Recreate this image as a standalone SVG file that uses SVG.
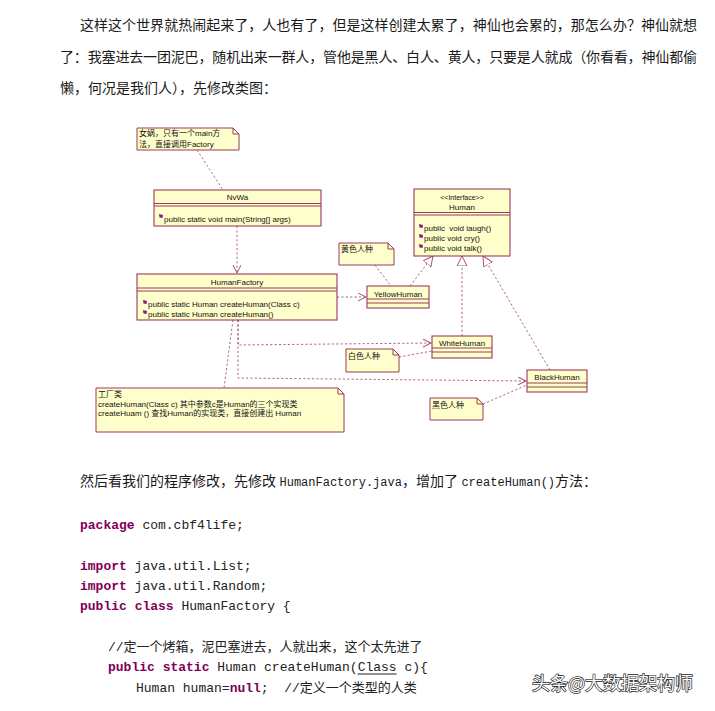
<svg xmlns="http://www.w3.org/2000/svg" xmlns:xlink="http://www.w3.org/1999/xlink" width="715" height="711" viewBox="0 0 715 711">
<defs>
<style>
.para{font-family:"Liberation Serif","Noto Sans CJK SC",serif;font-size:14px;fill:#1a1a1a}
.code{font-family:"Liberation Mono","Noto Sans CJK SC",monospace;font-size:13px;fill:#222;white-space:pre}
.kw{font-weight:bold;fill:#7f0055}
.cjk{font-family:"Noto Sans CJK SC",sans-serif;font-size:13px}
.box{fill:#ffffcc;stroke:#9b3a5a;stroke-width:1.1}
.sep{stroke:#9b3a5a;stroke-width:1;fill:none}
.note{fill:#ffffcc;stroke:#9b3a5a;stroke-width:1}
.u{font-family:"Liberation Sans","Noto Sans CJK SC",sans-serif;font-size:8px;fill:#111;white-space:pre}
.c{text-anchor:middle}
.dash{fill:none;stroke:#a8507a;stroke-width:0.9;stroke-dasharray:2.2,2.2}
.wm{font-family:"Noto Sans CJK SC",sans-serif;font-size:18px;fill:#fff;stroke:#222;stroke-width:1.3;paint-order:stroke}
</style>
<marker id="open" markerWidth="10" markerHeight="10" refX="8" refY="4" orient="auto" markerUnits="userSpaceOnUse">
<path d="M0,0 L8,4 L0,8" fill="none" stroke="#a8507a" stroke-width="1"/>
</marker>
<marker id="tri" markerWidth="12" markerHeight="12" refX="10" refY="5" orient="auto" markerUnits="userSpaceOnUse">
<path d="M0,0 L10,5 L0,10 Z" fill="#fff" stroke="#a8507a" stroke-width="1"/>
</marker>
<path id="bul" d="M-2,-2 L2,-1 L1.5,2 L-1.5,1.5 Z" fill="#8a1a8a"/>
</defs>
<rect width="715" height="711" fill="#fff"/>

<g id="intro">
<text class="para" x="80" y="30" textLength="617" lengthAdjust="spacing">这样这个世界就热闹起来了，人也有了，但是这样创建太累了，神仙也会累的，那怎么办？神仙就想</text>
<text class="para" x="60" y="62" textLength="637" lengthAdjust="spacing">了：我塞进去一团泥巴，随机出来一群人，管他是黑人、白人、黄人，只要是人就成（你看看，神仙都偷</text>
<text class="para" x="60" y="93">懒，何况是我们人），先修改类图：</text>
</g>

<g id="connectors">
<path class="dash" d="M197,150 L223,190"/>
<path class="dash" d="M237,226 V273" marker-end="url(#open)"/>
<path class="dash" d="M375,265 L391,286"/>
<path class="dash" d="M410,286 L433,256" marker-end="url(#tri)"/>
<path class="dash" d="M462,336 V256" marker-end="url(#tri)"/>
<path class="dash" d="M550,370 L483,256" marker-end="url(#tri)"/>
<path class="dash" d="M337,297 H366" marker-end="url(#open)"/>
<path class="dash" d="M238,320 V345 L431,343" marker-end="url(#open)"/>
<path class="dash" d="M238,320 V378 L526,381" marker-end="url(#open)"/>
<path class="dash" d="M399,357 L432,351"/>
<path class="dash" d="M483,404 L527,385"/>
<path class="dash" d="M233,320 L224,388"/>
</g>

<g id="note-nvwa">
<path class="note" d="M137,128 H233 L239,134 V150 H137 Z"/>
<path class="sep" d="M233,128 V134 H239"/>
<text class="u" x="139" y="136">女娲，只有一个main方</text>
<text class="u" x="139" y="147">法，直接调用Factory</text>
</g>

<g id="NvWa">
<rect class="box" x="154" y="190" width="167" height="36"/>
<path class="sep" d="M154,203.5 H321 M154,206 H321"/>
<text class="u c" x="237.5" y="200">NvWa</text>
<use xlink:href="#bul" x="161" y="216"/>
<text class="u" x="164" y="222">public static void main(String[] args)</text>
</g>

<g id="HumanFactory">
<rect class="box" x="137" y="274" width="200" height="46"/>
<path class="sep" d="M137,288 H337 M137,291 H337"/>
<text class="u c" x="237" y="285">HumanFactory</text>
<use xlink:href="#bul" x="145" y="302"/>
<text class="u" x="148" y="307">public static Human createHuman(Class c)</text>
<use xlink:href="#bul" x="145" y="312"/>
<text class="u" x="148" y="317">public static Human createHuman()</text>
</g>

<g id="Human">
<rect class="box" x="414" y="189" width="96" height="67"/>
<path class="sep" d="M414,212.5 H510 M414,215 H510"/>
<text class="u c" x="462" y="200" style="font-size:7px">&lt;&lt;Interface&gt;&gt;</text>
<text class="u c" x="462" y="210">Human</text>
<use xlink:href="#bul" x="421" y="226"/>
<text class="u" x="424" y="231">public  void laugh()</text>
<use xlink:href="#bul" x="421" y="236"/>
<text class="u" x="424" y="241">public void cry()</text>
<use xlink:href="#bul" x="421" y="246"/>
<text class="u" x="424" y="251">public void talk()</text>
</g>

<g id="YellowHuman">
<rect class="box" x="367" y="286" width="62" height="22"/>
<path class="sep" d="M367,299 H429 M367,303 H429"/>
<text class="u c" x="398" y="297">YellowHuman</text>
</g>

<g id="WhiteHuman">
<rect class="box" x="432" y="336" width="60" height="22"/>
<path class="sep" d="M432,348 H492 M432,352 H492"/>
<text class="u c" x="462" y="346">WhiteHuman</text>
</g>

<g id="BlackHuman">
<rect class="box" x="527" y="370" width="60" height="22"/>
<path class="sep" d="M527,383 H587 M527,387 H587"/>
<text class="u c" x="557" y="380">BlackHuman</text>
</g>

<g id="note-yellow">
<path class="note" d="M339,243 H388 L394,249 V265 H339 Z"/>
<path class="sep" d="M388,243 V249 H394"/>
<text class="u" x="341" y="252">黄色人种</text>
</g>

<g id="note-white">
<path class="note" d="M346,349 H393 L399,355 V372 H346 Z"/>
<path class="sep" d="M393,349 V355 H399"/>
<text class="u" x="348" y="359">白色人种</text>
</g>

<g id="note-black">
<path class="note" d="M430,398 H477 L483,404 V420 H430 Z"/>
<path class="sep" d="M477,398 V404 H483"/>
<text class="u" x="432" y="408">黑色人种</text>
</g>

<g id="note-factory">
<path class="note" d="M96,388 H338 L344,394 V432 H96 Z"/>
<path class="sep" d="M338,388 V394 H344"/>
<text class="u" x="98" y="396.5">工厂类</text>
<text class="u" x="98" y="406.5">createHuman(Class c) 其中参数c是Human的三个实现类</text>
<text class="u" x="98" y="416">createHuam () 查找Human的实现类，直接创建出 Human</text>
</g>

<g id="body">
<text class="para" x="80" y="486">然后看我们的程序修改，先修改 <tspan style="font-family:'Liberation Mono',monospace;font-size:12px">HumanFactory.java</tspan>，增加了 <tspan style="font-family:'Liberation Mono',monospace;font-size:12px">createHuman()</tspan>方法：</text>
</g>

<g id="code">
<text class="code" x="80" y="529"><tspan class="kw">package</tspan> com.cbf4life;</text>
<text class="code" x="80" y="570"><tspan class="kw">import</tspan> java.util.List;</text>
<text class="code" x="80" y="590"><tspan class="kw">import</tspan> java.util.Random;</text>
<text class="code" x="80" y="610"><tspan class="kw">public</tspan> <tspan class="kw">class</tspan> HumanFactory {</text>
<text class="code" x="108" y="651">//<tspan class="cjk">定一个烤箱，泥巴塞进去，人就出来，这个太先进了</tspan></text>
<text class="code" x="108" y="671"><tspan class="kw">public</tspan> <tspan class="kw">static</tspan> Human createHuman(Class c){</text>
<path d="M357.6,674 H396.6" stroke="#222" stroke-width="1"/>
<text class="code" x="136" y="692">Human human=<tspan class="kw">null</tspan>;  //<tspan class="cjk">定义一个类型的人类</tspan></text>
</g>

<text class="wm" x="532" y="690">头条@大数据架构师</text>
</svg>
